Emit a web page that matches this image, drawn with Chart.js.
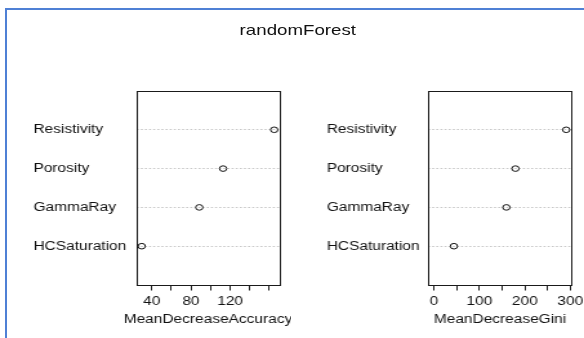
<!DOCTYPE html>
<html>
<head>
<meta charset="utf-8">
<script src="https://cdn.jsdelivr.net/npm/chart.js@4"></script>
<style>
  html, body { margin: 0; padding: 0; background: #fff; overflow: hidden; }
  body { width: 584px; height: 338px; position: relative; }
  #frame {
    position: absolute; left: 5px; top: 8px; width: 640px; height: 400px;
    border-left: 2px solid #4F80D5; border-top: 2px solid #4F80D5;
  }
  /* plot surface laid out at 453px wide, then widened to the page */
  #stage {
    position: absolute; left: 0; top: 0; width: 453px; height: 338px;
    transform-origin: 0 0; transform: scaleX(1.2892);
  }
  #stage canvas { position: absolute; top: 0; }
  #c1 { left: 0; }
  #c2 { left: 226px; }
  #main {
    position: absolute; left: 0; width: 462px; top: 22px; line-height: 16px;
    text-align: center; font: 14.5px "Liberation Sans", Arial, sans-serif; color: #111;
  }
</style>
</head>
<body>
<div id="frame"></div>
<div id="stage">
  <div id="main">randomForest</div>
  <canvas id="c1" width="226" height="338"></canvas>
  <canvas id="c2" width="250" height="338"></canvas>
</div>
<script>
// variables, listed from the top row of the dot chart to the bottom row
const features = ['Resistivity', 'Porosity', 'GammaRay', 'HCSaturation'];
const meanDecreaseAccuracy = [165, 112.8, 88.5, 29.7];
const meanDecreaseGini = [291, 179.4, 159.5, 44.1];

const accTicks = [40, 60, 80, 100, 120, 140, 160];
const accTickLabels = ['40', '', '80', '', '120', '', ''];
const giniTicks = [0, 50, 100, 150, 200, 250, 300];
const giniTickLabels = ['0', '', '100', '', '200', '', '300'];

const FONT = '"Liberation Sans", Arial, sans-serif';
const INK = '#111';

// frame drawn around the plotting region, like a base-graphics box(),
// plus the x-axis label centred under it (drawn at full width, never squeezed)
const boxPlugin = {
  id: 'plotBox',
  afterDraw(chart, args, opts) {
    const { ctx, chartArea: a } = chart;
    ctx.save();
    ctx.strokeStyle = '#1a1a1a';
    ctx.lineWidth = 1;
    ctx.strokeRect(Math.round(a.left) + 0.5, Math.round(a.top) + 0.5,
                   Math.round(a.right - a.left), Math.round(a.bottom - a.top));
    ctx.fillStyle = INK;
    ctx.font = '12px ' + FONT;
    ctx.textAlign = 'center';
    ctx.textBaseline = 'middle';
    ctx.fillText(opts.xLabel, (a.left + a.right) / 2, 320);
    ctx.restore();
  }
};

function dotChart(canvasId, values, xLabel, ticks, tickLabels, xMinFixed, labelLeft, yAxisWidth, rightPad) {
  const n = features.length;
  const points = features.map((f, i) => ({ x: values[i], y: n - i }));
  const lo = xMinFixed !== null ? xMinFixed : Math.min(...values);
  const hi = Math.max(...values);
  const ext = 0.04 * (hi - lo);
  const rows = features.map((f, i) => n - i);

  return new Chart(document.getElementById(canvasId), {
    type: 'scatter',
    data: {
      datasets: [{
        data: points,
        pointStyle: 'circle',
        pointRadius: 2.8,
        pointHoverRadius: 2.8,
        pointBorderWidth: 1,
        pointBorderColor: '#111',
        pointBackgroundColor: 'rgba(0,0,0,0)'
      }]
    },
    options: {
      responsive: false,
      animation: false,
      devicePixelRatio: 1,
      layout: { padding: { left: labelLeft, top: 91, right: rightPad, bottom: 0 } },
      plugins: {
        legend: { display: false },
        tooltip: { enabled: false },
        plotBox: { xLabel: xLabel }
      },
      scales: {
        x: {
          type: 'linear',
          min: lo - ext,
          max: hi + ext,
          afterBuildTicks: s => { s.ticks = ticks.map(v => ({ value: v })); },
          afterFit: s => { s.height = 53; },
          border: { display: false },
          grid: { drawOnChartArea: false, drawTicks: true, tickLength: 5.5, tickColor: '#222', tickWidth: 1 },
          ticks: {
            autoSkip: false, maxRotation: 0, padding: 4, color: INK,
            font: { family: FONT, size: 12 },
            callback: (v, i) => tickLabels[i]
          }
        },
        y: {
          type: 'linear',
          min: 0,
          max: n + 1,
          afterBuildTicks: s => { s.ticks = rows.map(v => ({ value: v })); },
          afterFit: s => { s.width = yAxisWidth; },
          border: { display: false, dash: [1.6, 1.6] },
          grid: { drawTicks: false, color: '#c8c8c8', lineWidth: 1 },
          ticks: {
            crossAlign: 'far', padding: 0, color: INK,
            font: { family: FONT, size: 12 },
            callback: v => features[n - v]
          }
        }
      }
    },
    plugins: [boxPlugin]
  });
}

dotChart('c1', meanDecreaseAccuracy, 'MeanDecreaseAccuracy', accTicks, accTickLabels, null, 25.9, 79.9, 9.2);
dotChart('c2', meanDecreaseGini, 'MeanDecreaseGini', giniTicks, giniTickLabels, 0, 27.4, 79.0, 32.7);
</script>
</body>
</html>
